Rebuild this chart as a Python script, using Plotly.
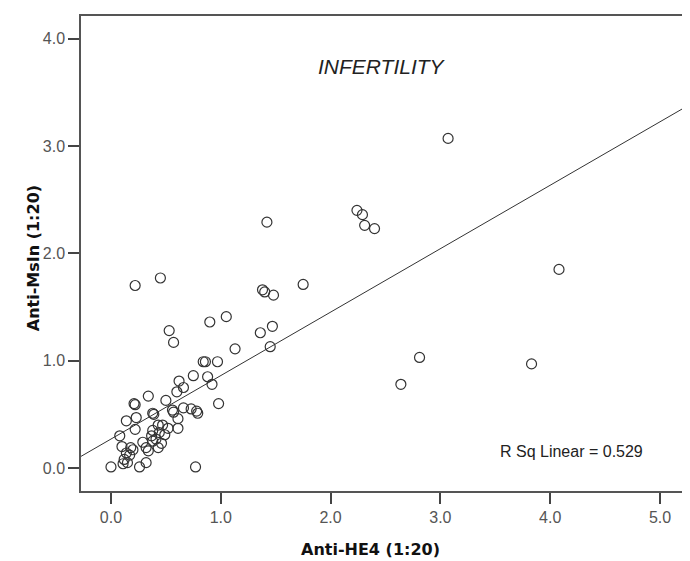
import plotly.graph_objects as go

# Anti-HE4 (1:20) values
anti_he4 = [
    3.07, 2.24, 2.29, 2.31, 2.40, 1.42, 1.38, 1.40, 1.48, 1.75,
    1.47, 1.36, 1.45, 2.81, 2.64, 3.83, 4.08,
    0.22, 0.45, 0.90, 1.05, 0.53, 0.57, 1.13, 0.84, 0.86, 0.97,
    0.75, 0.88, 0.92, 0.62, 0.66, 0.60, 0.34, 0.50, 0.21, 0.22,
    0.98, 0.66, 0.73, 0.78, 0.79, 0.56, 0.57, 0.38, 0.39, 0.23,
    0.61, 0.14, 0.22, 0.43, 0.47, 0.52, 0.61, 0.38, 0.44, 0.49,
    0.37, 0.08, 0.41, 0.29, 0.46, 0.38, 0.10, 0.18, 0.20, 0.32,
    0.43, 0.14, 0.17, 0.34, 0.12, 0.15, 0.11, 0.32, 0.00, 0.26,
    0.77,
]
# Anti-MsIn (1:20) values
anti_msln = [
    3.07, 2.40, 2.36, 2.26, 2.23, 2.29, 1.66, 1.64, 1.61, 1.71,
    1.32, 1.26, 1.13, 1.03, 0.78, 0.97, 1.85,
    1.70, 1.77, 1.36, 1.41, 1.28, 1.17, 1.11, 0.99, 0.99, 0.99,
    0.86, 0.85, 0.78, 0.81, 0.75, 0.71, 0.67, 0.63, 0.60, 0.59,
    0.60, 0.56, 0.55, 0.53, 0.51, 0.54, 0.52, 0.51, 0.50, 0.47,
    0.46, 0.44, 0.36, 0.40, 0.40, 0.37, 0.37, 0.35, 0.33, 0.31,
    0.30, 0.30, 0.27, 0.24, 0.23, 0.25, 0.20, 0.19, 0.17, 0.19,
    0.19, 0.14, 0.12, 0.16, 0.08, 0.05, 0.04, 0.05, 0.01, 0.01,
    0.01,
]

# Linear fit
fit_intercept = 0.27
fit_slope = 0.591
r_sq_text = "R Sq Linear = 0.529"

x_range = [-0.273, 5.273]
y_range = [-0.214, 4.21]
x_tick_vals = [0, 1, 2, 3, 4, 5]
x_tick_text = ["0.0", "1.0", "2.0", "3.0", "4.0", "5.0"]
y_tick_vals = [0, 1, 2, 3, 4]
y_tick_text = ["0.0", "1.0", "2.0", "3.0", "4.0"]

fit_x = x_range
fit_y = [fit_intercept + fit_slope * v for v in fit_x]

fig = go.Figure()
fig.add_trace(go.Scatter(
    x=fit_x, y=fit_y, mode="lines",
    line=dict(color="#333333", width=1), hoverinfo="skip", showlegend=False,
))
fig.add_trace(go.Scatter(
    x=anti_he4, y=anti_msln, mode="markers",
    marker=dict(symbol="circle-open", size=10, color="#333333", line=dict(width=1.2)),
    showlegend=False,
))

fig.add_annotation(
    x=0.494, y=0.922, xref="paper", yref="paper", text="<i>INFERTILITY</i>",
    showarrow=False, font=dict(family="Liberation Sans, Arial", size=21, color="#222222"),
)
fig.add_annotation(
    x=4.19, y=0.15, xref="x", yref="y", text=r_sq_text,
    showarrow=False, font=dict(family="Liberation Sans, Arial", size=16, color="#222222"),
)
fig.add_annotation(
    x=0.475, y=0, xref="paper", yref="paper", yshift=-58, yanchor="middle",
    text="<b>Anti-HE4 (1:20)</b>", showarrow=False,
    font=dict(family="DejaVu Sans, Arial", size=16, color="#111111"),
)
fig.add_annotation(
    x=0, y=0.49, xref="paper", yref="paper", xshift=-48, xanchor="center", yanchor="middle",
    text="<b>Anti-MsIn (1:20)</b>", showarrow=False, textangle=-90,
    font=dict(family="DejaVu Sans, Arial", size=16, color="#111111"),
)

axis_common = dict(
    showgrid=False, zeroline=False, showline=True, linecolor="#555555", linewidth=1.5,
    mirror=True, ticks="outside", ticklen=11, tickwidth=1.5, tickcolor="#444444",
    tickfont=dict(family="Liberation Sans, Arial", size=16, color="#555555"),
    automargin=False,
)

fig.update_layout(
    width=690, height=561,
    margin=dict(l=73, r=8, t=8, b=78, autoexpand=False),
    plot_bgcolor="white", paper_bgcolor="white",
    xaxis=dict(range=x_range, tickvals=x_tick_vals, ticktext=x_tick_text, **axis_common),
    yaxis=dict(range=y_range, tickvals=y_tick_vals, ticktext=y_tick_text, **axis_common),
)

fig.write_html("out.html")
